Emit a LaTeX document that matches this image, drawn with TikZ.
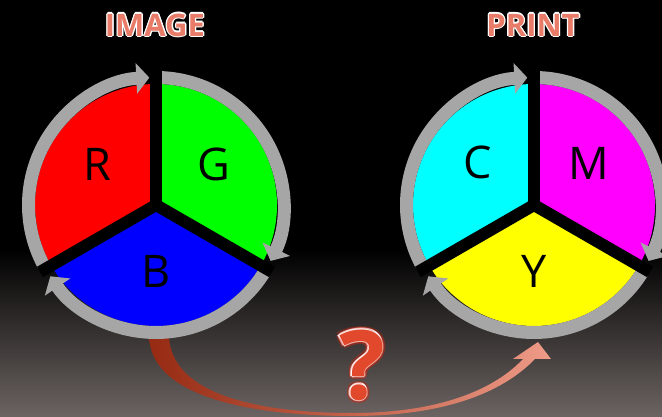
\documentclass[tikz,border=0pt]{standalone}
\usepackage{fontspec}
\setmainfont{Open Sans}
\usetikzlibrary{arrows.meta}

\definecolor{ringgray}{RGB}{166,166,166}
\definecolor{bggray}{RGB}{108,100,98}
\definecolor{titlered}{RGB}{232,124,104}
\definecolor{qred}{RGB}{226,72,44}
\definecolor{glowred}{RGB}{200,40,20}
\definecolor{arrowdark}{RGB}{150,42,18}
\definecolor{arrowlight}{RGB}{238,155,135}
\definecolor{pcyan}{RGB}{0,255,255}
\definecolor{pmagenta}{RGB}{255,0,255}
\definecolor{pyellow}{RGB}{255,255,0}

\begin{document}
\begin{tikzpicture}[x=1pt,y=1pt,
  ring/.style={ringgray,line width=13pt,-{Triangle[width=30pt,length=13pt]}},
  sep/.style={black,line width=12pt},
  letter/.style={font=\fontsize{45}{45}\selectfont,text=black,inner sep=0pt},
  title/.style={font=\fontsize{31}{31}\selectfont\bfseries,inner sep=0pt},
  qmark/.style={font=\fontsize{96}{96}\selectfont\bfseries,inner sep=0pt}]
  \useasboundingbox (0,0) rectangle (662,417);
  \fill[black] (0,0) rectangle (662,417);
  \shade[top color=black,bottom color=bggray] (0,0) rectangle (662,168);

  \coordinate (L) at (156,212);
  \coordinate (P) at (534,212);

  \shade[left color=arrowdark,right color=arrowlight]
    (149,80) .. controls (152,17) and (260,1) .. (352,1)
    .. controls (440,1) and (500,22) .. (535,58)
    -- (551,58) -- (538,75) -- (513,58) -- (523,58)
    .. controls (495,28) and (440,4) .. (352,4)
    .. controls (260,4) and (172,22) .. (169,80) -- cycle;

  \foreach \c/\ca/\cb/\cc in {L/red/green/blue,P/pcyan/pmagenta/pyellow}{
    \fill[\ca] (\c) -- ++(90:121) arc[start angle=90,end angle=210,radius=121] -- cycle;
    \fill[\cb] (\c) -- ++(-30:121) arc[start angle=-30,end angle=90,radius=121] -- cycle;
    \fill[\cc] (\c) -- ++(210:121) arc[start angle=210,end angle=330,radius=121] -- cycle;
    \draw[ring] ([shift={(208:127.5)}]\c) arc[start angle=208,end angle=93,radius=127.5];
    \draw[ring] ([shift={(88:127.5)}]\c) arc[start angle=88,end angle=-26,radius=127.5];
    \draw[ring] ([shift={(-32:127.5)}]\c) arc[start angle=-32,end angle=-146,radius=127.5];
    \draw[sep] (\c) -- ++(90:134);
    \draw[sep] (\c) -- ++(-30:134);
    \draw[sep] (\c) -- ++(210:134);
    \fill[black] (\c) circle[radius=7];
  }

  \node[letter] (R) at ([shift={(145:71)}]L) {R};
  \node[letter] (G) at ([shift={(35:71)}]L) {G};
  \node[letter] (B) at ([shift={(270:66)}]L) {B};
  \node[letter] (C) at ([shift={(143:70)}]P) {C};
  \node[letter] (M) at ([shift={(37:69)}]P) {M};
  \node[letter] (Y) at ([shift={(270:66)}]P) {Y};

  \coordinate (imgc) at (155,392);
  \coordinate (prtc) at (533,392);
  \coordinate (qc) at (362,52);
  \foreach \a in {0,45,...,315}{
    \node[title,text=white] (imgo\a) at ([shift={(\a:1.3)}]imgc) {IMAGE};
    \node[title,text=white] (prto\a) at ([shift={(\a:1.3)}]prtc) {PRINT};
    \node[qmark,text=glowred,opacity=0.35] (qg\a) at ([shift={(\a:3)}]qc) {?};
    \node[qmark,text=white] (qo\a) at ([shift={(\a:1.2)}]qc) {?};
  }
  \node[title,text=titlered] (image) at (imgc) {IMAGE};
  \node[title,text=titlered] (print) at (prtc) {PRINT};
  \node[qmark,text=qred] (q) at (qc) {?};
\end{tikzpicture}
\end{document}
